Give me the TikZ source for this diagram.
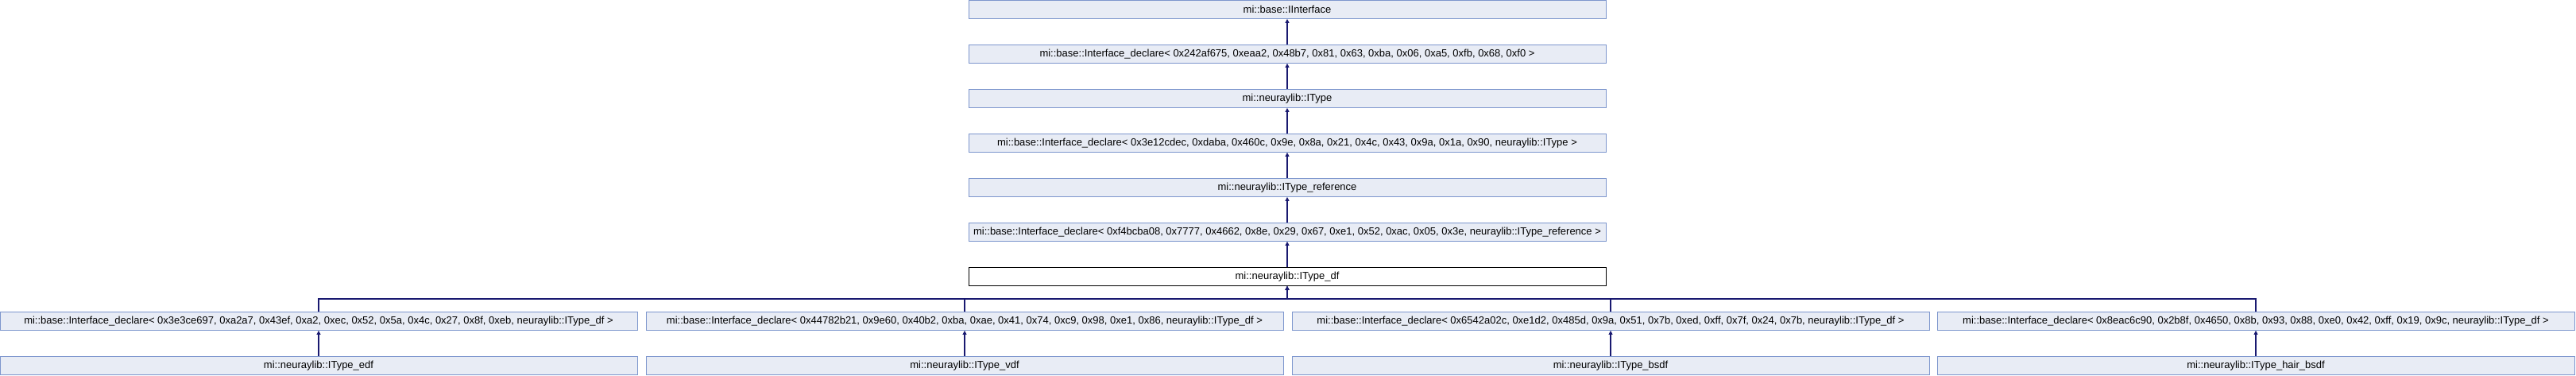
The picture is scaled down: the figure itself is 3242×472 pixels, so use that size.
\documentclass[tikz,border=0pt]{standalone}
\usepackage{fontspec}
\setmainfont{Liberation Sans}
\usetikzlibrary{arrows.meta}
\definecolor{boxfill}{HTML}{E8ECF5}
\definecolor{boxline}{HTML}{7D96CD}
\definecolor{edgecol}{HTML}{191970}
\begin{document}
\begin{tikzpicture}[x=0.5pt,y=-0.5pt,
  cls/.style={draw=boxline, fill=boxfill, line width=0.5pt, minimum width=401pt,
    minimum height=11.3pt, inner sep=0pt, font=\fontsize{6.5}{7.8}\selectfont, anchor=center},
  cur/.style={cls, draw=black, fill=white},
  inh/.style={draw=edgecol, line width=0.55pt, -{Triangle[length=2.5pt,width=2.4pt]}}]
\useasboundingbox (0,0) rectangle (3242,472);
\node[cls] (n0) at (1620,12) {mi::base::IInterface};
\node[cls] (n1) at (1620,68) {mi::base::Interface\_declare< 0x242af675, 0xeaa2, 0x48b7, 0x81, 0x63, 0xba, 0x06, 0xa5, 0xfb, 0x68, 0xf0 >};
\node[cls] (n2) at (1620,124) {mi::neuraylib::IType};
\node[cls] (n3) at (1620,180) {mi::base::Interface\_declare< 0x3e12cdec, 0xdaba, 0x460c, 0x9e, 0x8a, 0x21, 0x4c, 0x43, 0x9a, 0x1a, 0x90, neuraylib::IType >};
\node[cls] (n4) at (1620,236) {mi::neuraylib::IType\_reference};
\node[cls] (n5) at (1620,292) {mi::base::Interface\_declare< 0xf4bcba08, 0x7777, 0x4662, 0x8e, 0x29, 0x67, 0xe1, 0x52, 0xac, 0x05, 0x3e, neuraylib::IType\_reference >};
\node[cur] (n6) at (1620,348) {mi::neuraylib::IType\_df};
\node[cls] (a0) at (401,404) {mi::base::Interface\_declare< 0x3e3ce697, 0xa2a7, 0x43ef, 0xa2, 0xec, 0x52, 0x5a, 0x4c, 0x27, 0x8f, 0xeb, neuraylib::IType\_df >};
\node[cls] (b0) at (1214,404) {mi::base::Interface\_declare< 0x44782b21, 0x9e60, 0x40b2, 0xba, 0xae, 0x41, 0x74, 0xc9, 0x98, 0xe1, 0x86, neuraylib::IType\_df >};
\node[cls] (c0) at (2027,404) {mi::base::Interface\_declare< 0x6542a02c, 0xe1d2, 0x485d, 0x9a, 0x51, 0x7b, 0xed, 0xff, 0x7f, 0x24, 0x7b, neuraylib::IType\_df >};
\node[cls] (d0) at (2839,404) {mi::base::Interface\_declare< 0x8eac6c90, 0x2b8f, 0x4650, 0x8b, 0x93, 0x88, 0xe0, 0x42, 0xff, 0x19, 0x9c, neuraylib::IType\_df >};
\node[cls] (a1) at (401,460) {mi::neuraylib::IType\_edf};
\node[cls] (b1) at (1214,460) {mi::neuraylib::IType\_vdf};
\node[cls] (c1) at (2027,460) {mi::neuraylib::IType\_bsdf};
\node[cls] (d1) at (2839,460) {mi::neuraylib::IType\_hair\_bsdf};
\coordinate (bus) at (1620,376);
\draw[inh] (n1) -- (n0);
\draw[inh] (n2) -- (n1);
\draw[inh] (n3) -- (n2);
\draw[inh] (n4) -- (n3);
\draw[inh] (n5) -- (n4);
\draw[inh] (n6) -- (n5);
\foreach \k in {a0,b0,c0,d0}{
  \draw[inh] (\k.north) -- (\k.north |- bus) -- (bus) -- (n6.south);
}
\draw[inh] (a1) -- (a0);
\draw[inh] (b1) -- (b0);
\draw[inh] (c1) -- (c0);
\draw[inh] (d1) -- (d0);
\end{tikzpicture}
\end{document}
